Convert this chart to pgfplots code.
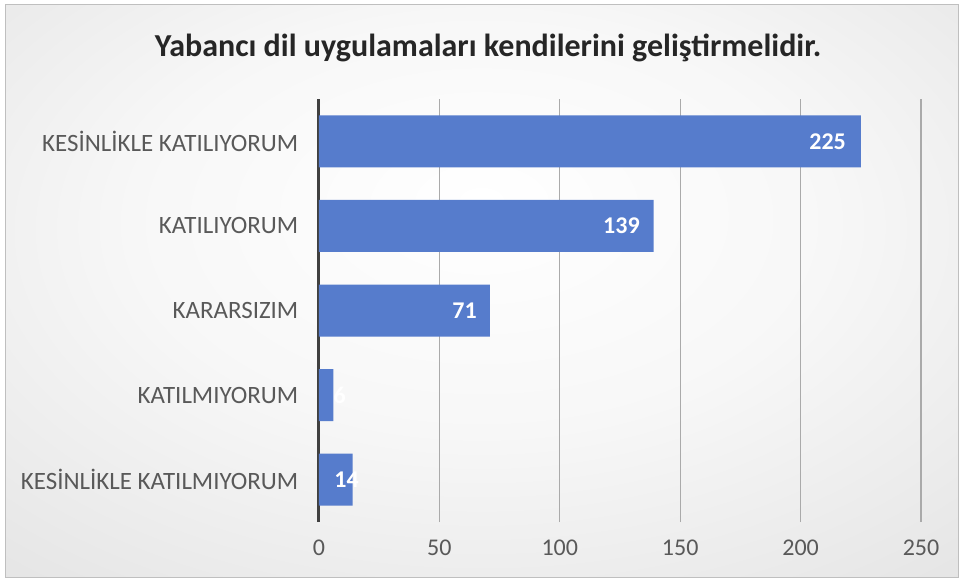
\documentclass[border=0pt]{standalone}
\usepackage{pgfplots}
\pgfplotsset{compat=1.18}
\usepackage{fontspec}
\setmainfont{Carlito}
\definecolor{barblue}{RGB}{86,124,204}
\definecolor{gridgray}{RGB}{170,170,170}
\definecolor{txtgray}{RGB}{89,89,89}
\definecolor{axisdark}{RGB}{64,64,64}
\pgfdeclareradialshading{bgshade}{\pgfpoint{0bp}{8bp}}{color(0bp)=(white); color(18bp)=(white!97!black); color(72bp)=(white!78!black)}
\begin{document}
\begin{tikzpicture}[x=0.75pt,y=0.75pt]
\path[use as bounding box] (0,0) rectangle (961,579);
\shade[shading=bgshade] (5,2) rectangle (958,574);
\draw[white!75!black, line width=0.75pt] (5,2) rectangle (958,574);
\node[font=\bfseries\fontsize{24}{27}\selectfont, text=black!85] at (488,531) {Yabancı dil uygulamaları kendilerini geliştirmelidir.};
\begin{axis}[
  at={(239.25pt,42.75pt)}, anchor=south west,
  scale only axis, width=451.5pt, height=317.25pt,
  xmin=0, xmax=250, ymin=-0.5, ymax=4.5,
  axis lines*=left,
  x axis line style={draw=none},
  y axis line style={axisdark, line width=2.25pt},
  xtick={0,50,...,250},
  ytick={0,1,2,3,4},
  yticklabels={KESİNLİKLE KATILMIYORUM, KATILMIYORUM, KARARSIZIM, KATILIYORUM, KESİNLİKLE KATILIYORUM},
  xmajorgrids, grid style={gridgray, line width=0.9pt},
  major tick length=0pt,
  tick label style={font=\fontsize{18}{20}\selectfont, text=txtgray},
  yticklabel style={font=\fontsize{18.7}{21}\selectfont, xshift=-12pt},
  /pgf/number format/assume math mode=true,
  xticklabel style={yshift=-10pt},
  clip=false,
]
\addplot[xbar, fill=barblue, draw=none, bar width=39pt] coordinates {(14,0) (6,1) (71,2) (139,3) (225,4)};
\addplot[draw=none, mark=none, nodes near coords, point meta=explicit symbolic,
  every node near coord/.style={anchor=east, inner sep=0pt, text=white, font=\bfseries\fontsize{18}{20}\selectfont}]
  table[x=x, y=y, meta=v] {
x y v
16.6 0 14
11.2 1 6
65.6 2 71
133.3 3 139
218.9 4 225
};
\end{axis}
\end{tikzpicture}
\end{document}
